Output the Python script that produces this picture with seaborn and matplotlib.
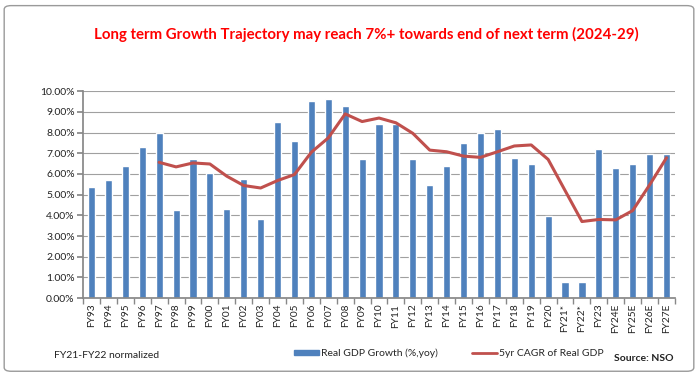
import numpy as np
import pandas as pd
import matplotlib
matplotlib.use("Agg")
import matplotlib.pyplot as plt
from matplotlib.patches import FancyBboxPatch, Patch
from matplotlib.lines import Line2D
import seaborn as sns

years = ["FY93", "FY94", "FY95", "FY96", "FY97", "FY98", "FY99", "FY00", "FY01", "FY02",
         "FY03", "FY04", "FY05", "FY06", "FY07", "FY08", "FY09", "FY10", "FY11", "FY12",
         "FY13", "FY14", "FY15", "FY16", "FY17", "FY18", "FY19", "FY20", "FY21*", "FY22*",
         "FY23", "FY24E", "FY25E", "FY26E", "FY27E"]
gdp_growth = [5.37, 5.69, 6.40, 7.29, 7.98, 4.27, 6.73, 6.05, 4.30, 5.77,
              3.82, 8.53, 7.60, 9.50, 9.60, 9.29, 6.70, 8.39, 8.39, 6.70,
              5.47, 6.38, 7.50, 7.96, 8.15, 6.78, 6.48, 3.99, 0.77, 0.77,
              7.19, 6.30, 6.48, 6.96, 6.96]
cagr_5yr = [np.nan, np.nan, np.nan, np.nan, 6.56, 6.34, 6.53, 6.48, 5.89, 5.44,
            5.32, 5.68, 5.97, 7.05, 7.74, 8.90, 8.53, 8.70, 8.47, 7.96,
            7.15, 7.07, 6.86, 6.80, 7.07, 7.35, 7.40, 6.70, 5.20, 3.70,
            3.80, 3.78, 4.23, 5.47, 6.78]
yticks = [0, 1, 2, 3, 4, 5, 6, 7, 8, 9, 10]

df = pd.DataFrame({"year": years, "gdp": gdp_growth, "cagr": cagr_5yr, "pos": np.arange(len(years))})

sns.set_theme(style="white")
plt.rcParams['font.family'] = ['Lato', 'DejaVu Sans']

fig = plt.figure(figsize=(6.98, 3.75), dpi=100)
fig.patches.append(FancyBboxPatch((0.006, 0.01), 0.988, 0.975, boxstyle="round,pad=0,rounding_size=0.01",
                                  transform=fig.transFigure, facecolor="white", edgecolor="#9a9a9a",
                                  linewidth=1.0, zorder=-1))
ax = fig.add_axes([0.119, 0.205, 0.848, 0.552])
ax.set_facecolor("none")

bar_color = "#4F81BD"
line_color = "#C0504D"

sns.barplot(data=df, x="year", y="gdp", color=bar_color, width=0.42, saturation=1,
            ax=ax, zorder=2, order=years)
sns.lineplot(data=df, x="pos", y="cagr", color=line_color, linewidth=2.2, ax=ax, zorder=3)

ax.set_xlim(-0.5, len(years) - 0.5)
ax.set_ylim(0, 10)
ax.set_yticks(yticks)
ax.set_yticklabels([f"{v:.2f}%" for v in yticks], fontsize=7.5, color="#222222")
ax.set_xticks(np.arange(len(years)))
ax.set_xticklabels(years, rotation=90, fontsize=7.3, color="#222222")
ax.set_xlabel("")
ax.set_ylabel("")
ax.yaxis.grid(True, color="#a0a0a0", linewidth=0.8, zorder=0)
ax.set_axisbelow(True)
for s in ["top", "right"]:
    ax.spines[s].set_visible(False)
ax.spines["left"].set_color("#888888")
ax.spines["bottom"].set_color("#888888")
ax.tick_params(axis="x", length=0, pad=4)
ax.tick_params(axis="y", length=4, color="#888888", direction="out", left=True, pad=2)
ax.set_xticks(np.arange(-0.5, len(years) + 0.5, 1), minor=True)
ax.tick_params(axis="x", which="minor", length=4, color="#888888", direction="out", bottom=True)

fig.text(0.525, 0.907, "Long term Growth Trajectory may reach 7%+ towards end of next term (2024-29)",
         ha="center", va="center", color="#FF0000", fontsize=10.8, fontweight="bold")
fig.text(0.078, 0.053, "FY21-FY22 normalized", ha="left", va="center", fontsize=7.5, color="#222222")
fig.text(0.965, 0.045, "Source: NSO", ha="right", va="center", fontsize=7.5, fontweight="bold", color="#222222")

handles = [Patch(facecolor=bar_color, edgecolor=bar_color),
           Line2D([0], [0], color=line_color, linewidth=2)]
leg = fig.legend(handles, ["Real GDP Growth (%,yoy)", "5yr CAGR of Real GDP"], loc="center",
                 bbox_to_anchor=(0.643, 0.058), ncol=2, frameon=False, fontsize=7.5,
                 handlelength=2.4, handleheight=0.45, columnspacing=3.3, handletextpad=0.2)

fig.savefig("out.png", dpi=100)
